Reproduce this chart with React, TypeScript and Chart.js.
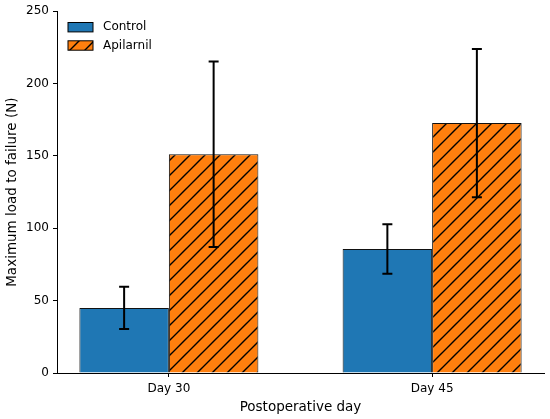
import React, { useEffect, useRef } from "react";
import Chart from "chart.js/auto";

// values
const days = ["Day 30", "Day 45"];
const dayPos = [0, 1];
const controlMean = [45, 85.7];
const controlErr = [14.6, 17.1];
const apilarnilMean = [151.2, 172.7];
const apilarnilErr = [64.1, 51.2];
const yTicks = [0, 50, 100, 150, 200, 250];

const FONT = "'DejaVu Sans', sans-serif";

function makeHatch(color: string): CanvasPattern | string {
  const s = 15;
  const c = document.createElement("canvas");
  c.width = s;
  c.height = s;
  const g = c.getContext("2d");
  if (!g) return color;
  g.fillStyle = color;
  g.fillRect(0, 0, s, s);
  g.strokeStyle = "#000";
  g.lineWidth = 1.4;
  g.beginPath();
  g.moveTo(0, s);
  g.lineTo(s, 0);
  g.moveTo(-2, 2);
  g.lineTo(2, -2);
  g.moveTo(s - 2, s + 2);
  g.lineTo(s + 2, s - 2);
  g.stroke();
  return g.createPattern(c, "repeat") || color;
}

const errorBars = {
  id: "errorBars",
  afterDatasetsDraw(chart: any) {
    const { ctx } = chart;
    const y = chart.scales.y;
    ctx.save();
    ctx.strokeStyle = "#000";
    ctx.lineWidth = 2;
    chart.data.datasets.forEach((ds: any, i: number) => {
      const meta = chart.getDatasetMeta(i);
      meta.data.forEach((bar: any, j: number) => {
        const m = ds.data[j].y;
        const e = ds.errors[j];
        const top = y.getPixelForValue(m + e);
        const bot = y.getPixelForValue(m - e);
        ctx.beginPath();
        ctx.moveTo(bar.x, top);
        ctx.lineTo(bar.x, bot);
        ctx.moveTo(bar.x - 5, top);
        ctx.lineTo(bar.x + 5, top);
        ctx.moveTo(bar.x - 5, bot);
        ctx.lineTo(bar.x + 5, bot);
        ctx.stroke();
      });
    });
    ctx.restore();
  },
};

const insideLegend = {
  id: "insideLegend",
  afterDraw(chart: any) {
    const { ctx, chartArea } = chart;
    ctx.save();
    ctx.font = `12px ${FONT}`;
    ctx.textBaseline = "middle";
    chart.data.datasets.forEach((ds: any, i: number) => {
      const x = chartArea.left + 11;
      const yc = chartArea.top + 16 + i * 18.3;
      ctx.fillStyle = ds.backgroundColor;
      ctx.fillRect(x, yc - 4.7, 25, 9.4);
      ctx.strokeStyle = "#000";
      ctx.lineWidth = 1;
      ctx.strokeRect(x, yc - 4.7, 25, 9.4);
      ctx.fillStyle = "#000";
      ctx.fillText(ds.label, x + 35, yc);
    });
    ctx.restore();
  },
};

const App: React.FC = () => {
  const chartRef = useRef<HTMLCanvasElement>(null);
  const chartInstance = useRef<Chart<"bar"> | null>(null);

  useEffect(() => {
    document.body.style.margin = "0";
    if (chartRef.current) {
      const ctx = chartRef.current.getContext("2d");
      if (ctx) {
        chartInstance.current = new Chart(ctx, {
          type: "bar",
          data: {
            datasets: [
              {
                label: "Control",
                data: dayPos.map((x, i) => ({ x, y: controlMean[i] })),
                errors: controlErr,
                backgroundColor: "#1f77b4",
                borderColor: "#111",
                borderWidth: 1,
              } as any,
              {
                label: "Apilarnil",
                data: dayPos.map((x, i) => ({ x, y: apilarnilMean[i] })),
                errors: apilarnilErr,
                backgroundColor: makeHatch("#ff7f0e"),
                borderColor: "#111",
                borderWidth: 1,
              } as any,
            ],
          },
          options: {
            responsive: false,
            animation: false,
            categoryPercentage: 0.68,
            barPercentage: 1,
            layout: { padding: { top: 10, right: 6, left: 0, bottom: 0 } },
            scales: {
              x: {
                type: "linear",
                min: -0.425,
                max: 1.425,
                offset: false,
                afterBuildTicks: (scale: any) => {
                  scale.ticks = dayPos.map((v) => ({ value: v }));
                },
                afterFit: (scale: any) => {
                  scale.height = 46;
                },
                ticks: {
                  callback: (_v: any, i: number) => days[i],
                  color: "#000",
                  font: { family: FONT, size: 12 },
                  padding: 5,
                  maxRotation: 0,
                },
                grid: {
                  offset: false,
                  drawOnChartArea: false,
                  drawTicks: true,
                  tickLength: 4,
                  color: "#000",
                },
                border: { color: "#000", width: 1 },
                title: {
                  display: true,
                  text: "Postoperative day",
                  color: "#000",
                  font: { family: FONT, size: 13.5 },
                  padding: { top: 0, bottom: 3 },
                },
              },
              y: {
                min: 0,
                max: 250,
                afterBuildTicks: (scale: any) => {
                  scale.ticks = yTicks.map((v) => ({ value: v }));
                },
                afterFit: (scale: any) => {
                  scale.width = 57;
                },
                ticks: {
                  color: "#000",
                  font: { family: FONT, size: 12 },
                  padding: 4,
                },
                grid: {
                  drawOnChartArea: false,
                  drawTicks: true,
                  tickLength: 4,
                  color: "#000",
                },
                border: { color: "#000", width: 1 },
                title: {
                  display: true,
                  text: "Maximum load to failure (N)",
                  color: "#000",
                  font: { family: FONT, size: 13.5 },
                  padding: { top: 4, bottom: 0 },
                },
              },
            },
            plugins: {
              legend: { display: false },
              tooltip: { enabled: false },
            },
          },
          plugins: [errorBars, insideLegend],
        });
      }
    }

    return () => {
      if (chartInstance.current) {
        chartInstance.current.destroy();
      }
    };
  }, []);

  return (
    <div style={{ width: 550, height: 419, background: "#fff" }}>
      <canvas ref={chartRef} width={550} height={419} />
    </div>
  );
};

export default App;
